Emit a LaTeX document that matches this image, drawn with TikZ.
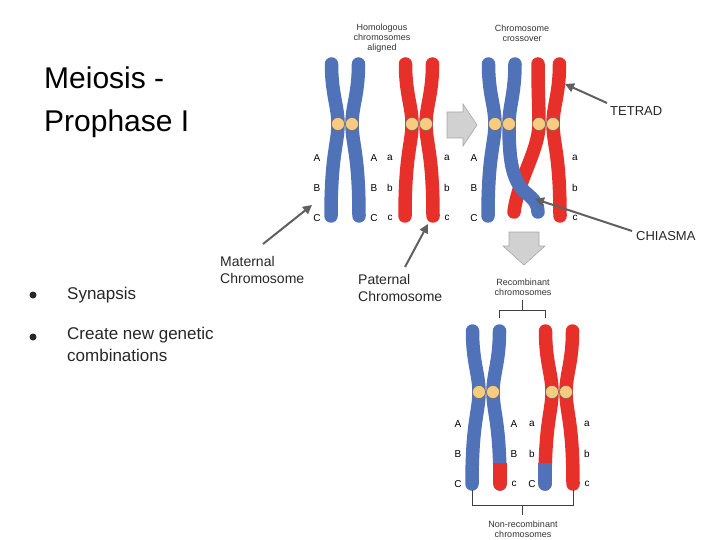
\documentclass[tikz,border=0pt]{standalone}
\usepackage{fontspec}
\setmainfont{Liberation Sans}
\usetikzlibrary{arrows.meta}
\definecolor{cblue}{HTML}{4F72B8}
\definecolor{cred}{HTML}{E8302A}
\definecolor{cen}{HTML}{F8CC80}
\definecolor{agray}{HTML}{606060}
\begin{document}
\begin{tikzpicture}[x=1pt,y=-1pt,
  chrom/.style={line width=13.5pt,line cap=round},
  cenc/.style={circle,draw=black!60,fill=cen,minimum size=13pt,inner sep=0pt,line width=0.5pt},
  lab/.style={font=\fontsize{10}{10}\selectfont,inner sep=0pt},
  captxt/.style={font=\fontsize{9}{10}\selectfont,align=center,text=black!80},
  note/.style={font=\fontsize{13}{17}\selectfont,align=left,text=black!85},
  bul/.style={circle,fill=black!85,minimum size=7pt,inner sep=0pt},
  pt/.style={draw=agray,line width=2pt,-{Triangle[length=9pt,width=9pt]}},
  gblock/.style={draw=black!35,fill=black!18,line width=0.6pt}]
\useasboundingbox (0,0) rectangle (720,540);
\newcommand{\lchr}[5]{\draw[chrom,#5] (#1-13.5,#2) .. controls (#1-13.5,#3-30) and (#1-7,#3-18) .. (#1-7,#3) .. controls (#1-7,#3+20) and (#1-14,#3+30) .. (#1-14,#4);}
\newcommand{\rchr}[5]{\draw[chrom,#5] (#1+13.5,#2) .. controls (#1+13.5,#3-30) and (#1+7,#3-18) .. (#1+7,#3) .. controls (#1+7,#3+20) and (#1+14,#3+30) .. (#1+14,#4);}
% top pairs
\lchr{345}{64}{124}{216}{cblue}\rchr{345}{64}{124}{216}{cblue}
\lchr{419}{64}{124}{216}{cred}\rchr{419}{64}{124}{216}{cred}
% crossover
\draw[chrom,cred] (538,64) .. controls (538,94) and (539,106) .. (539,124) .. controls (539,150) and (518,180) .. (514,212);
\rchr{546}{64}{124}{216}{cred}
\lchr{502}{64}{124}{216}{cblue}
\draw[chrom,cblue] (515,64) .. controls (515,94) and (509,106) .. (509,124) .. controls (509,160) and (512,180) .. (525,192) .. controls (535,200) and (538,205) .. (538,212);
\foreach \x/\n in {338/a1,352/a2,412/a3,426/a4,495/a5,509/a6,539/a7,553/a8}{\node[cenc] (\n) at (\x,124) {};}
% bottom pairs
\lchr{486}{331}{392}{484}{cblue}\rchr{486}{331}{392}{484}{cblue}
\lchr{559}{331}{392}{484}{cred}\rchr{559}{331}{392}{484}{cred}
\draw[line width=13.5pt,cred] (500,463) -- (500,484);
\fill[cred] (500,484) circle (6.75pt);
\draw[line width=13.5pt,cblue] (545,463) -- (545,484);
\fill[cblue] (545,484) circle (6.75pt);
\foreach \x/\n in {479/b1,493/b2,552/b3,566/b4}{\node[cenc] (\n) at (\x,392) {};}
% gene labels
\foreach \y/\L/\l in {158/A/a,188/B/b,218/C/c}{
  \node[lab] at (317,\y) {\L}; \node[lab] at (374,\y) {\L};
  \node[lab] at (390,\y) {\l}; \node[lab] at (447,\y) {\l};
  \node[lab] at (474,\y) {\L}; \node[lab] at (575,\y) {\l};}
\foreach \y/\L/\l/\R/\r in {424/A/A/a/a,454/B/B/b/b,484/C/c/C/c}{
  \node[lab] at (458,\y) {\L}; \node[lab] at (514,\y) {\l};
  \node[lab] at (532,\y) {\R}; \node[lab] at (587,\y) {\r};}
% block arrows
\draw[gblock] (447,112) -- (463,112) -- (463,104) -- (477,125) -- (463,146) -- (463,138) -- (447,138) -- cycle;
\draw[gblock] (509,232) -- (539,232) -- (539,246) -- (545,246) -- (524,265) -- (503,246) -- (509,246) -- cycle;
% captions
\node[captxt] (hc) at (382,38) {Homologous\\chromosomes\\aligned};
\node[captxt] (cc) at (522,33) {Chromosome\\crossover};
\node[captxt] (rc) at (523,287) {Recombinant\\chromosomes};
\node[captxt] (nc) at (523,529) {Non-recombinant\\chromosomes};
% brackets
\draw[black!75,line width=1pt] (499,318) -- (499,310) -- (545,310) -- (545,318);
\draw[black!75,line width=1pt] (522,310) -- (522,300);
\draw[black!75,line width=1pt] (472,490) -- (472,505) -- (573,505) -- (573,490);
\draw[black!75,line width=1pt] (522,505) -- (522,515);
% text
\node[anchor=west,font=\fontsize{30}{43}\selectfont,align=left,inner sep=0pt] (title) at (44,102) {Meiosis -\\Prophase I};
\node[bul] (d1) at (33,295) {};
\node[bul] (d2) at (33,337) {};
\node[anchor=west,note,font=\fontsize{17}{22}\selectfont,inner sep=0pt] (b1t) at (67,295) {Synapsis};
\node[anchor=north west,note,font=\fontsize{17}{22}\selectfont,inner sep=0pt] (b2t) at (67,327) {Create new genetic\\combinations};
\node[anchor=north west,note,font=\fontsize{14}{17}\selectfont,inner sep=0pt] (mat) at (220,256) {Maternal\\Chromosome};
\node[anchor=north west,note,font=\fontsize{14}{17}\selectfont,inner sep=0pt] (pat) at (358,274) {Paternal\\Chromosome};
\node[anchor=west,note,inner sep=0pt] (tet) at (610,111) {TETRAD};
\node[anchor=west,note,inner sep=0pt] (chi) at (636,236) {CHIASMA};
\coordinate (m1) at (263,244); \coordinate (m2) at (312,205);
\coordinate (p1) at (405,267); \coordinate (p2) at (428,224);
\coordinate (t1) at (607,103); \coordinate (t2) at (565,84);
\coordinate (c1) at (632,231); \coordinate (c2) at (535,199);
\draw[pt] (m1) -- (m2);
\draw[pt] (p1) -- (p2);
\draw[pt] (t1) -- (t2);
\draw[pt] (c1) -- (c2);
\end{tikzpicture}
\end{document}
